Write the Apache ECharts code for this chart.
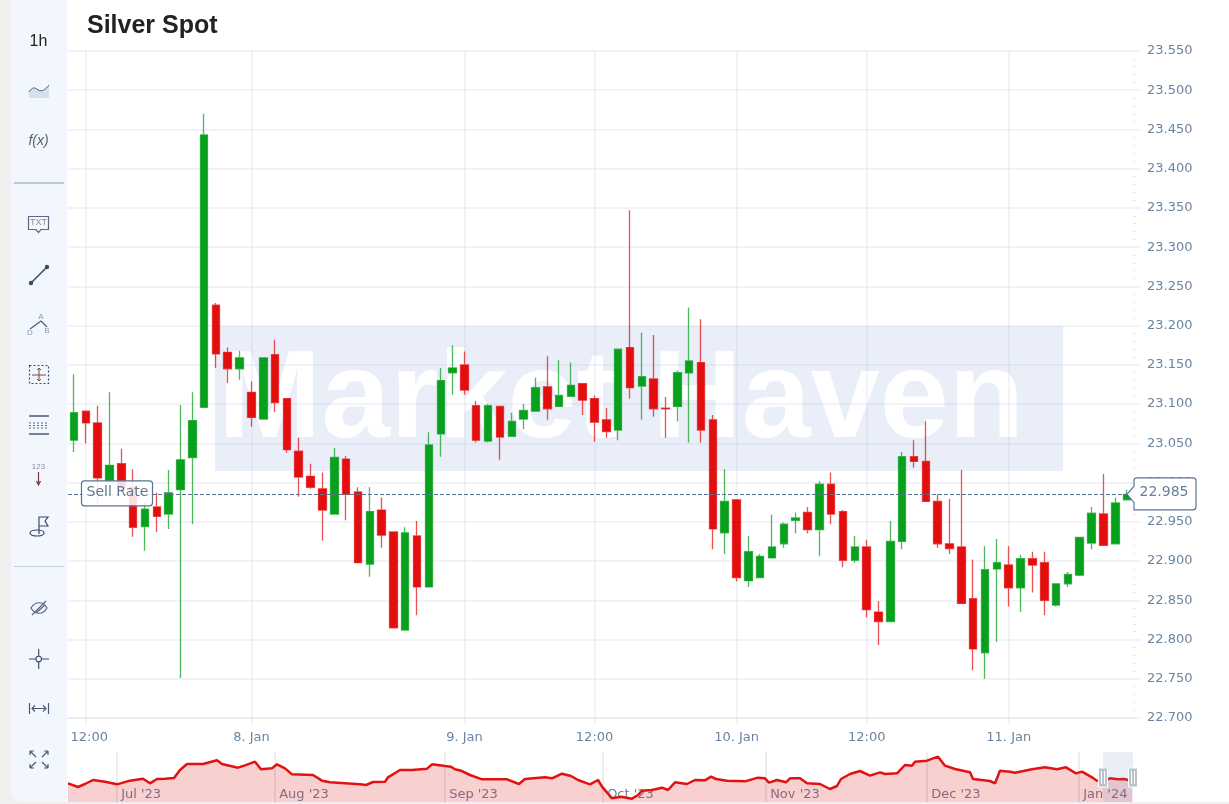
<!DOCTYPE html>
<html>
<head>
<meta charset="utf-8">
<title>Silver Spot</title>
<script src="https://cdn.jsdelivr.net/npm/echarts@6/dist/echarts.min.js"></script>
<style>html,body{margin:0;padding:0;background:#fff}#c{width:1229px;height:804px}</style>
</head>
<body>
<div id="c"></div>
<script>
const titleText = 'Silver Spot';
const sellRate = 22.985;
const yMin = 22.7, yMax = 23.55, yStep = 0.05;

const tickLabels = {1:'12:00',15:'8. Jan',33:'9. Jan',44:'12:00',56:'10. Jan',67:'12:00',79:'11. Jan'};

const openValues = [23.054,23.091,23.076,23.002,23.024,22.994,22.944,22.969,22.960,22.991,
  23.032,23.096,23.226,23.166,23.145,23.115,23.081,23.163,23.107,23.040,
  23.008,22.992,22.960,23.030,22.988,22.896,22.965,22.937,22.812,22.932,
  22.867,23.062,23.140,23.150,23.098,23.053,23.097,23.059,23.081,23.091,
  23.122,23.097,23.110,23.126,23.107,23.080,23.067,23.172,23.123,23.132,
  23.095,23.097,23.140,23.153,23.080,22.936,22.978,22.875,22.879,22.904,
  22.922,22.952,22.962,22.940,22.998,22.963,22.901,22.918,22.835,22.823,
  22.925,23.033,23.027,22.976,22.922,22.918,22.852,22.783,22.890,22.895,
  22.866,22.903,22.898,22.844,22.871,22.882,22.923,22.960,22.922,22.978];
const closeValues = [23.089,23.076,23.006,23.022,22.993,22.943,22.966,22.957,22.987,23.029,
  23.079,23.443,23.164,23.145,23.159,23.083,23.159,23.102,23.042,23.007,
  22.994,22.965,23.032,22.985,22.898,22.963,22.933,22.815,22.936,22.867,
  23.048,23.130,23.146,23.118,23.054,23.098,23.058,23.078,23.092,23.121,
  23.094,23.111,23.124,23.105,23.077,23.065,23.170,23.121,23.135,23.094,
  23.094,23.140,23.155,23.067,22.941,22.976,22.879,22.912,22.906,22.918,
  22.947,22.955,22.940,22.998,22.960,22.901,22.918,22.838,22.823,22.925,
  23.033,23.027,22.976,22.922,22.916,22.846,22.788,22.889,22.898,22.866,
  22.903,22.895,22.850,22.871,22.883,22.930,22.961,22.920,22.974,22.985];
const lowValues = [23.039,23.050,22.974,23.002,22.991,22.931,22.913,22.937,22.941,22.751,
  22.947,23.096,23.146,23.127,23.131,23.071,23.081,23.090,23.038,22.982,
  22.992,22.926,22.960,22.952,22.898,22.880,22.917,22.815,22.812,22.831,
  22.867,23.033,23.112,23.112,23.051,23.051,23.029,23.059,23.068,23.091,
  23.080,23.097,23.110,23.086,23.052,23.057,23.054,23.107,23.080,23.084,
  23.057,23.078,23.051,23.051,22.915,22.909,22.874,22.867,22.879,22.904,
  22.917,22.935,22.935,22.906,22.947,22.892,22.898,22.828,22.793,22.823,
  22.915,23.019,22.976,22.917,22.909,22.846,22.761,22.750,22.797,22.842,
  22.835,22.860,22.831,22.842,22.867,22.881,22.915,22.920,22.922,22.978];
const highValues = [23.138,23.091,23.098,23.115,23.043,23.017,22.974,22.987,23.016,23.099,
  23.115,23.470,23.229,23.172,23.168,23.129,23.159,23.182,23.107,23.057,
  23.024,23.013,23.044,23.034,22.994,22.994,22.981,22.938,22.943,22.951,
  23.064,23.146,23.175,23.167,23.104,23.100,23.098,23.089,23.100,23.134,
  23.161,23.156,23.153,23.127,23.111,23.095,23.170,23.347,23.191,23.188,
  23.109,23.143,23.223,23.208,23.086,23.017,22.979,22.932,22.909,22.959,
  22.949,22.962,22.969,23.002,23.013,22.965,22.932,22.927,22.849,22.951,
  23.039,23.054,23.078,22.985,22.979,23.016,22.902,22.919,22.928,22.919,
  22.908,22.912,22.912,22.871,22.886,22.931,22.969,23.011,22.981,22.991];

const navDays = [0,2,3.4,5,7.4,9.8,12.4,15,16.4,17.8,19.4,21.2,22.4,23.8,27,29.8,30.8,34,35.4,37.4,38.6,40.8,41.8,43.4,44.8,
  49,50.8,52.4,58.4,59.6,61,63.4,64,66.4,68.8,71.8,72.8,75.4,76.6,77.4,78.6,80.4,82.8,85.8,87.8,90.2,91.4,95.4,96.8,98.8,
  100.6,102,104.4,106,106.8,108.8,110.6,112.8,114,114.8,116.8,118.8,120,121.4,123.8,125.4,127.4,128.6,129.6,131.8,135.4,138,139.4,140.2,141.8,
  143.6,144.4,146.4,147.8,150.4,152.4,153.8,154.6,156.4,158.4,160.4,162.4,163.4,165.8,167.4,168.8,169.4,171.8,174,175.4,177.4,180.4,181,184.4,185.4,
  186.4,188.4,189.4,192.8,195.4,197.8,199.6,201.6,202.8,204.8,205.8,207,208.4,210,211.2,212.8];
const navPrices = [22.54,22.10,22.46,22.94,22.74,22.42,22.86,23.10,22.54,23.06,23.10,23.18,24.14,24.86,24.86,25.30,24.86,24.42,24.70,25.14,24.22,24.34,24.82,24.34,23.62,
  23.54,22.86,22.66,22.42,22.34,22.70,22.74,23.26,24.14,24.14,24.30,24.82,24.62,24.54,24.22,24.06,23.54,23.02,23.02,23.02,22.46,23.06,23.26,23.14,23.70,
  23.42,22.94,22.42,22.94,22.14,20.74,20.94,20.70,21.14,21.66,21.74,22.02,21.74,22.66,22.46,22.94,22.90,23.34,23.06,22.86,22.78,23.22,23.14,22.62,22.94,
  22.66,23.14,23.14,22.54,22.46,21.86,22.22,23.06,23.66,24.02,23.46,23.86,23.66,23.74,24.74,24.66,25.14,25.26,25.74,24.66,24.26,23.86,23.06,22.82,22.54,
  24.06,23.94,23.82,24.22,24.46,24.22,24.46,23.74,23.94,23.26,22.86,22.82,23.14,23.02,23.06,22.82];
const monthTicks = [9.8,41.4,75.4,107,139.6,171.8,202.2];
const monthLabels = ["Jul '23","Aug '23","Sep '23","Oct '23","Nov '23","Dec '23","Jan '24"];
const navStart = 207, navEnd = 213;

const categories = openValues.map((_, i) => tickLabels[i] || '');
const candleData = openValues.map((o, i) => [o, closeValues[i], lowValues[i], highValues[i]]);
const navData = navDays.map((d, i) => [d, navPrices[i]]);

const AXIS_FONT = '"DejaVu Sans"';
const AXIS_COLOR = '#6b84a0';
const GRID = 'rgba(190,195,220,0.2)';
const showTick = (i, v) => v !== '';

const chart = echarts.init(document.getElementById('c'), null, {renderer: 'canvas'});

const option = {
  animation: false,
  backgroundColor: '#fff',
  grid: [
    {left: 68, right: 96, top: 51, height: 667},
    {left: 68, right: 96, top: 752, height: 50}
  ],
  xAxis: [
    {
      type: 'category', gridIndex: 0, data: categories, boundaryGap: true,
      axisLine: {show: true, lineStyle: {color: '#e6e9f0', width: 1.5}},
      axisTick: {show: true, alignWithLabel: true, interval: showTick, length: 7, lineStyle: {color: GRID, width: 2}},
      splitLine: {show: true, alignWithLabel: true, interval: showTick, lineStyle: {color: GRID, width: 2}},
      axisLabel: {
        show: true, interval: showTick, margin: 13, hideOverlap: false,
        formatter: (v, i) => i === 1 ? '{first|' + v + '}' : v,
        rich: {first: {padding: [0, 0, 0, 7], color: AXIS_COLOR, fontFamily: AXIS_FONT, fontSize: 13}},
        color: AXIS_COLOR, fontFamily: AXIS_FONT, fontSize: 13
      }
    },
    {
      type: 'value', gridIndex: 1, min: 0, max: 213, position: 'bottom',
      axisLine: {show: false},
      splitLine: {show: false},
      axisTick: {show: true, inside: true, length: 50, customValues: monthTicks, lineStyle: {color: 'rgba(90,100,130,0.16)', width: 1.5}},
      axisLabel: {
        show: true, inside: true, customValues: monthTicks, align: 'left', margin: 1,
        formatter: v => ' ' + monthLabels[monthTicks.indexOf(v)],
        color: AXIS_COLOR, fontFamily: AXIS_FONT, fontSize: 13
      }
    }
  ],
  yAxis: [
    {
      type: 'value', gridIndex: 0, min: yMin, max: yMax, interval: yStep, position: 'right', scale: true,
      axisLine: {show: false},
      axisTick: {show: true, length: 8, lineStyle: {color: GRID, width: 2}},
      minorTick: {show: true, splitNumber: 5, length: 3, lineStyle: {color: '#e6e9f0'}},
      splitLine: {show: true, lineStyle: {color: GRID, width: 2}},
      axisLabel: {margin: 14, color: AXIS_COLOR, fontFamily: AXIS_FONT, fontSize: 13, formatter: v => v.toFixed(3)}
    },
    {type: 'value', gridIndex: 1, min: 20.3, max: 26.3, show: false}
  ],
  series: [
    {
      type: 'candlestick', name: 'Silver Spot', xAxisIndex: 0, yAxisIndex: 0, data: candleData,
      barWidth: 8, silent: true,
      itemStyle: {
        color: '#09a01e', color0: '#e30f0f',
        borderColor: 'rgba(9,160,30,0.72)', borderColor0: 'rgba(227,15,15,0.72)', borderWidth: 1.3
      },
      markLine: {
        silent: true, symbol: 'none', animation: false, precision: 3, label: {show: false},
        lineStyle: {color: '#5a7391', type: 'dashed', width: 1},
        data: [{yAxis: sellRate}]
      }
    },
    {
      type: 'line', name: 'Navigator', xAxisIndex: 1, yAxisIndex: 1, data: navData, showSymbol: false, silent: true,
      lineStyle: {color: '#e31212', width: 2.5},
      areaStyle: {color: '#e31212', opacity: 0.2}
    }
  ]
};
chart.setOption(option);

/* ---- furniture drawn once the scales are known ---- */
const py = chart.convertToPixel({yAxisIndex: 0}, sellRate);
const nx1 = chart.convertToPixel({xAxisIndex: 1}, navStart);
const nx2 = chart.convertToPixel({xAxisIndex: 1}, navEnd);

const ICON = '#4d5b78';
let shapeCount = 0;
const path = (d, extra, z) => {
  const name = 'svgShape' + (shapeCount++);
  echarts.graphic.registerShape(name, echarts.graphic.extendPath(d, {}));
  return {type: name, z: z || 50, silent: true,
    style: Object.assign({fill: 'none', stroke: ICON, lineWidth: 1.2}, extra || {})};
};
const rect = (x, y, w, h, fill, z, r) => ({type: 'rect', z: z == null ? 40 : z, silent: true,
  shape: {x, y, width: w, height: h, r: r || 0}, style: {fill}});
const text = (t, x, y, font, fill, align, z) => ({type: 'text', z: z || 50, silent: true, x, y,
  style: {text: t, font, fill, textAlign: align || 'center', textVerticalAlign: 'middle'}});

const handle = x => [
  {type: 'rect', z: 62, silent: true, shape: {x: x - 4.5, y: 768, width: 9, height: 19},
    style: {fill: '#b9c3cc', stroke: '#fff', lineWidth: 1}},
  rect(x - 2, 771, 1, 13, '#fff', 63),
  rect(x + 1, 771, 1, 13, '#fff', 63)
];

const graphics = [
  /* page and toolbar */
  rect(0, 0, 11, 804, '#efefef', 30),
  rect(11, 802, 1218, 2, '#efefef', 30),
  rect(11, 790, 12, 12, '#efefef', 30),
  {type: 'rect', z: 31, silent: true, shape: {x: 11, y: 0, width: 56, height: 802, r: [0, 0, 0, 11]}, style: {fill: '#f2f7fe'}},
  rect(14, 182, 50, 2, '#bcc8d6', 40),
  rect(14, 566, 50, 1, '#c6d0dc', 40),

  /* watermark */
  rect(215, 326, 848, 145, '#e9eef9', -20),
  text('Market Haven', 218, 402.5, 'bold 124px "Liberation Sans"', '#ffffff', 'left', -19),

  /* title */
  text(titleText, 87, 26.5, 'bold 25px "Liberation Sans"', '#222', 'left'),

  /* toolbar items */
  text('1h', 38.5, 42, '16px "Liberation Sans"', '#222'),
  path('M29 98 L29 92 C32 87 35 87 38 90 C42 92 45 90 49 85 L49 98 Z', {fill: '#d3e0ef', stroke: 'none'}),
  path('M29 92 C32 87 35 87 38 90 C42 92 45 90 49 85', {stroke: '#4d5b78', lineWidth: 1}),
  text('f(x)', 38.5, 141, 'italic 14px "Liberation Sans"', '#5a5f70'),
  path('M28.5 216.5 H48.5 V229.5 H41 L38.5 232.5 L36 229.5 H28.5 Z', {stroke: '#6c5f88'}),
  text('TXT', 38.5, 223, '9px "Liberation Sans"', '#8a8f9c'),
  path('M31 283 L47 267', {stroke: '#3d4a66', lineWidth: 1.6}),
  {type: 'circle', z: 50, silent: true, shape: {cx: 31, cy: 283, r: 2.2}, style: {fill: '#3d4a66'}},
  {type: 'circle', z: 50, silent: true, shape: {cx: 47, cy: 267, r: 2.2}, style: {fill: '#3d4a66'}},
  path('M30 329 L41 321 L47 327', {stroke: '#4d5b78'}),
  text('A', 41, 317, '8px "Liberation Sans"', '#8a97b5'),
  text('D', 30, 333, '8px "Liberation Sans"', '#8a97b5'),
  text('B', 47, 331, '8px "Liberation Sans"', '#8a97b5'),
  path('M29.5 365.5 H48.5 V383.5 H29.5 Z', {lineDash: [2, 2], stroke: '#3d4a66'}),
  path('M39 368 V381 M32 375 H46 M37 370 L39 368 L41 370 M37 379 L39 381 L41 379', {stroke: '#7a4a3a', lineWidth: 1}),
  path('M29 416 H49 M29 434 H49', {stroke: '#4d5b78', lineWidth: 1.4}),
  path('M29 423 H49 M29 425.5 H49 M29 428 H49', {lineDash: [2, 2], stroke: '#5f6d8a', lineWidth: 1}),
  text('123', 38.5, 467, '8px "Liberation Sans"', '#8a8f9c'),
  path('M38.5 472 V484 M36.5 481 L38.5 485 L40.5 481', {stroke: '#7a3a3a', lineWidth: 1.2}),
  path('M39 534 V517 L48 517 L45 521 L48 526 L39 526', {stroke: '#3d4a66'}),
  {type: 'ellipse', z: 50, silent: true, shape: {cx: 37, cy: 533, rx: 7, ry: 3}, style: {fill: 'none', stroke: '#3d4a66', lineWidth: 1.2}},
  path('M31 608 C35 601 43 601 47 608 C43 615 35 615 31 608 Z M32 615 L46 601 M36 613 L45 605', {stroke: '#5b6682'}),
  {type: 'circle', z: 50, silent: true, shape: {cx: 38.7, cy: 659, r: 2.8}, style: {fill: 'none', stroke: '#3d4a66', lineWidth: 1.1}},
  path('M29 659 H36 M41.5 659 H49 M38.7 649 V656 M38.7 662 V669', {stroke: '#4d4a60'}),
  path('M29.5 703 V714 M48.5 703 V714 M32 708.5 H46 M35 705.5 L32 708.5 L35 711.5 M43 705.5 L46 708.5 L43 711.5', {stroke: '#4d5b78'}),
  path('M30 751 L36 757 M30 751 H34 M30 751 V755 M48 751 L42 757 M48 751 H44 M48 751 V755 M30 768 L36 762 M30 768 H34 M30 768 V764 M48 768 L42 762 M48 768 H44 M48 768 V764', {stroke: '#4d5b78'}),

  /* sell-rate label */
  {type: 'rect', z: 55, silent: true, shape: {x: 81.5, y: py - 13.5, width: 71, height: 25, r: 3},
    style: {fill: 'rgba(255,255,255,0.86)', stroke: '#5a7391', lineWidth: 1.2}},
  text('Sell Rate', 117.5, py - 1.5, '14px "DejaVu Sans"', '#5f7894', 'center', 56),

  /* price tag */
  path(`M1137 ${py - 16.5} H1193 Q1196 ${py - 16.5} 1196 ${py - 13.5} V${py + 12.5} Q1196 ${py + 15.5} 1193 ${py + 15.5} H1134 V${py + 8} L1127 ${py} L1134 ${py - 8} V${py - 13.5} Q1134 ${py - 16.5} 1137 ${py - 16.5} Z`,
    {fill: '#fff', stroke: '#5a7391', lineWidth: 1.2}, 55),
  text(sellRate.toFixed(3), 1164, py - 2, '14px "DejaVu Sans"', '#667f9b', 'center', 56),

  /* navigator selection */
  rect(nx1, 752, nx2 - nx1, 50, 'rgba(102,133,194,0.14)', 60),
  ...handle(nx1),
  ...handle(nx2)
];
chart.setOption({graphic: {elements: graphics}});
</script>
</body>
</html>
